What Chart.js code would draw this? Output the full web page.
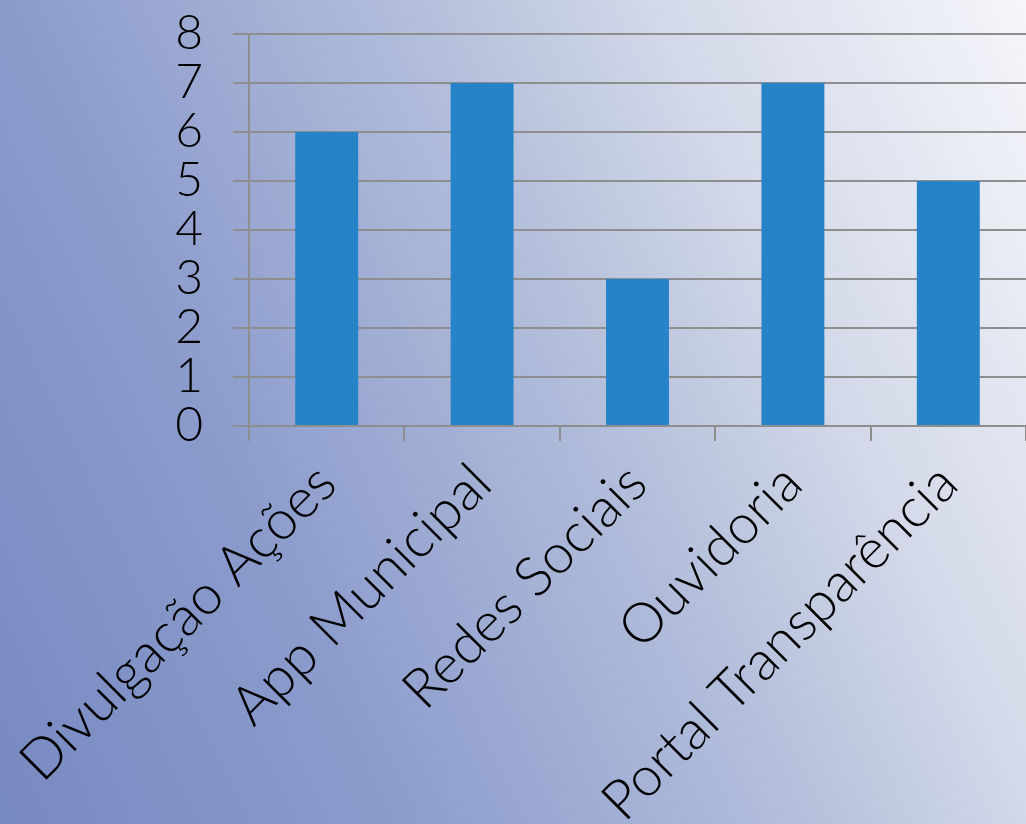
<!DOCTYPE html>
<html>
<head>
<meta charset="utf-8">
<script src="https://cdn.jsdelivr.net/npm/chart.js@4"></script>
<style>
  html, body { margin: 0; padding: 0; }
  body {
    width: 1026px;
    height: 824px;
    overflow: hidden;
    background: linear-gradient(65deg, #7789c1 0%, #8b9bcc 28%, #b3bedb 56%, #d2d8e8 73%, #f5f6fa 100%);
  }
  #wrap { position: relative; width: 1026px; height: 824px; }
</style>
</head>
<body>
<div id="wrap"><canvas id="chart"></canvas></div>
<script>
// categories and values
const categories = [
  "Divulgação Ações",
  "App Municipal",
  "Redes Sociais",
  "Ouvidoria",
  "Portal Transparência",
];
const values = [6, 7, 3, 7, 5];
const yTicks = [0, 1, 2, 3, 4, 5, 6, 7, 8];

const FONT = "Lato";
const GRID = "#8e8e8e";

new Chart(document.getElementById("chart"), {
  type: "bar",
  data: {
    labels: categories,
    datasets: [
      {
        data: values,
        backgroundColor: "#2683c8",
        borderWidth: 0,
        barPercentage: 0.5,
        categoryPercentage: 0.81,
      },
    ],
  },
  options: {
    responsive: true,
    maintainAspectRatio: false,
    animation: false,
    layout: { padding: { top: 34, right: 0, bottom: 0, left: 0 } },
    plugins: { legend: { display: false }, tooltip: { enabled: false } },
    scales: {
      x: {
        offset: true,
        grid: {
          offset: true,
          drawOnChartArea: false,
          drawTicks: true,
          tickLength: 15,
          color: GRID,
          lineWidth: 2,
        },
        border: { color: GRID, width: 2 },
        ticks: {
          autoSkip: false,
          minRotation: 45,
          maxRotation: 45,
          padding: 10,
          color: "#000",
          font: { family: FONT, size: 55, weight: 300 },
        },
        afterFit: (s) => {
          s.height = 398;
          s.paddingLeft = 0;
          s.paddingRight = 0;
        },
      },
      y: {
        min: 0,
        max: 8,
        afterBuildTicks: (s) => {
          s.ticks = yTicks.map((v) => ({ value: v }));
        },
        grid: { color: GRID, lineWidth: 2, tickLength: 16 },
        border: { color: GRID, width: 2 },
        ticks: {
          autoSkip: false,
          padding: 30,
          color: "#000",
          font: { family: FONT, size: 48, weight: 300 },
        },
        afterFit: (s) => {
          s.width = 249;
          s.paddingTop = 0;
          s.paddingBottom = 0;
        },
      },
    },
  },
});
</script>
</body>
</html>
